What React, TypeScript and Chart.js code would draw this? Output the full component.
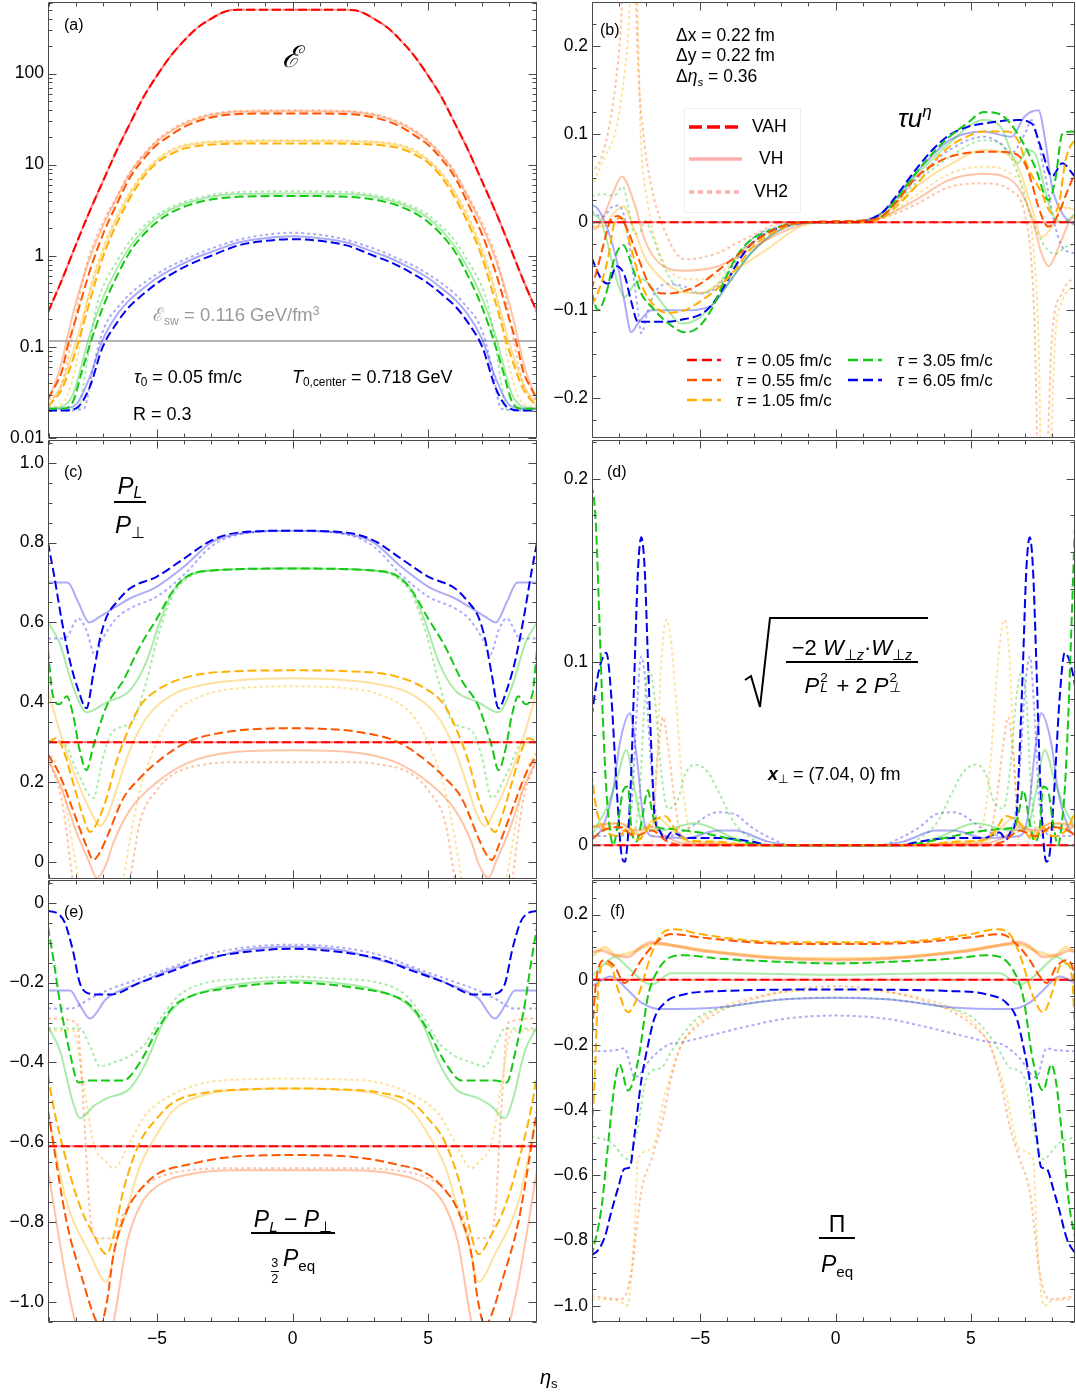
import React, { useEffect, useRef } from "react";
import { Chart, registerables } from "chart.js";

Chart.register(...registerables);

type P = [number, number];

// ---------- shared ----------
const TAUS = ["0.05", "0.55", "1.05", "3.05", "6.05"];
const TAU_COLORS = ["#ff0000", "#ff5500", "#ffb000", "#14c814", "#0000ee"];
const TAU_LIGHT = [
  "rgba(255,0,0,0.32)",
  "rgba(255,85,0,0.35)",
  "rgba(255,176,0,0.38)",
  "rgba(20,200,20,0.36)",
  "rgba(0,0,238,0.33)",
];
const ETA_TICKS = [-5, 0, 5];
const ETA_TICK_LABELS = ["−5", "0", "5"];

// ---------- (a) energy density (left half, mirrored) ----------
const A_TICKS = [0.01, 0.1, 1, 10, 100];
const A_TICK_LABELS = ["0.01", "0.1", "1", "10", "100"];
const E_SW = 0.116;
const A_T005: P[] = [[-9.02,0.24],[-8.5,0.55],[-8,1.3],[-7.5,3],[-7,6.5],[-6.5,14],[-6,28],[-5.5,55],[-5,95],[-4.5,155],[-4,230],[-3.5,320],[-3,400],[-2.6,465],[-2.3,495],[-2,500],[0,500]];
const A_VAH_055: P[] = [[-9.02,0.027],[-8.7,0.04],[-8.5,0.055],[-8.3,0.1],[-8,0.2],[-7.5,0.65],[-7,1.7],[-6.5,3.6],[-6,7.2],[-5.5,11.5],[-5,16.5],[-4.5,21],[-4,26],[-3.5,30],[-3,33],[-2.5,35],[-2,36],[0,36.5]];
const A_VH_055: P[] = [[-9.02,0.026],[-8.7,0.045],[-8.5,0.07],[-8.3,0.13],[-8,0.3],[-7.5,0.9],[-7,2.1],[-6.5,4.2],[-6,8],[-5.5,12.5],[-5,18],[-4.5,23],[-4,28],[-3.5,32],[-3,35],[-2.5,37],[-2,38],[0,38.5]];
const A_VH2_055: P[] = [[-9.02,0.026],[-8.7,0.03],[-8.5,0.04],[-8.2,0.1],[-8,0.22],[-7.7,0.6],[-7.5,1.0],[-7,2.3],[-6.5,4.4],[-6,8.2],[-5.5,13],[-5,18.5],[-4.5,24],[-4,29],[-3.5,33],[-3,36],[-2.5,38],[-2,39],[0,39.5]];
const A_VAH_105: P[] = [[-9.02,0.022],[-8.5,0.035],[-8,0.09],[-7.5,0.3],[-7,0.95],[-6.5,2.2],[-6,4.3],[-5.5,7.3],[-5,10.5],[-4.5,13],[-4,15],[-3.5,16],[-3,16.6],[-2,17],[0,17.1]];
const A_VH_105: P[] = [[-9.02,0.022],[-8.5,0.04],[-8,0.11],[-7.5,0.38],[-7,1.1],[-6.5,2.5],[-6,4.8],[-5.5,7.9],[-5,11.2],[-4.5,14],[-4,16],[-3.5,17],[-3,17.6],[-2,18],[0,18.2]];
const A_VH2_105: P[] = [[-9.02,0.022],[-8.5,0.024],[-8,0.06],[-7.7,0.2],[-7.5,0.4],[-7,1.2],[-6.5,2.7],[-6,5],[-5.5,8.2],[-5,11.5],[-4.5,14.5],[-4,16.5],[-3.5,17.5],[-3,18],[-2,18.4],[0,18.5]];
const A_VAH_305: P[] = [[-9.02,0.021],[-8.5,0.021],[-8.1,0.025],[-7.8,0.05],[-7.5,0.1],[-7,0.27],[-6.5,0.58],[-6,1.1],[-5.5,1.7],[-5,2.35],[-4.5,2.95],[-4,3.45],[-3.5,3.85],[-3,4.15],[-2,4.45],[0,4.53]];
const A_VH_305: P[] = [[-9.02,0.021],[-8.5,0.022],[-8.1,0.03],[-7.8,0.06],[-7.5,0.13],[-7,0.34],[-6.5,0.7],[-6,1.25],[-5.5,1.9],[-5,2.6],[-4.5,3.2],[-4,3.7],[-3.5,4.1],[-3,4.45],[-2,4.75],[0,4.84]];
const A_VH2_305: P[] = [[-9.02,0.021],[-8.5,0.021],[-7.9,0.021],[-7.7,0.04],[-7.5,0.1],[-7.2,0.3],[-7,0.45],[-6.5,0.85],[-6,1.45],[-5.5,2.1],[-5,2.8],[-4.5,3.4],[-4,3.9],[-3.5,4.3],[-3,4.65],[-2,5],[0,5.1]];
const A_VAH_605: P[] = [[-9.02,0.02],[-8.5,0.02],[-8,0.021],[-7.5,0.035],[-7,0.1],[-6.5,0.18],[-6,0.28],[-5.5,0.38],[-5,0.5],[-4.5,0.62],[-4,0.75],[-3.5,0.88],[-3,1.0],[-2.5,1.15],[-2,1.3],[-1,1.46],[0,1.52]];
const A_VH_605: P[] = [[-9.02,0.021],[-8.5,0.021],[-8,0.023],[-7.5,0.045],[-7,0.12],[-6.5,0.22],[-6,0.33],[-5.5,0.44],[-5,0.57],[-4.5,0.7],[-4,0.83],[-3.5,0.97],[-3,1.1],[-2.5,1.25],[-2,1.4],[-1,1.56],[0,1.64]];
const A_VH2_605: P[] = [[-9.02,0.02],[-8.5,0.02],[-7.7,0.021],[-7.4,0.05],[-7.1,0.12],[-6.8,0.2],[-6.5,0.26],[-6,0.38],[-5.5,0.5],[-5,0.63],[-4.5,0.77],[-4,0.9],[-3.5,1.05],[-3,1.2],[-2.5,1.35],[-2,1.5],[-1,1.7],[0,1.79]];

// ---------- (b) tau u^eta (full range) ----------
const B_TICKS = [-0.2, -0.1, 0, 0.1, 0.2];
const B_TICK_LABELS = ["−0.2", "−0.1", "0", "0.1", "0.2"];
const B_T005: P[] = [[-9.02,0],[9.02,0]];
const B_VAH_055: P[] = [[-9.02,-0.077],[-8.78,-0.05],[-8.53,-0.02],[-8.35,0.0],[-8.04,0.007],[-7.67,-0.01],[-7.3,-0.04],[-6.8,-0.075],[-6.3,-0.081],[-5.58,-0.078],[-5,-0.07],[-4.35,-0.055],[-3.73,-0.04],[-3.12,-0.025],[-2.5,-0.012],[-1.89,-0.004],[-1.15,0],[1.0,0.002],[1.69,0.006],[2.3,0.025],[2.95,0.05],[3.6,0.065],[4.2,0.074],[5.0,0.079],[5.86,0.08],[6.5,0.079],[6.99,0.067],[7.25,0.045],[7.5,0.017],[7.87,-0.005],[8.25,0.01],[8.5,0.03],[8.9,0.06]];
const B_VAH_105: P[] = [[-9.02,-0.095],[-8.78,-0.08],[-8.4,-0.04],[-8.16,0.0],[-7.9,0.005],[-7.55,-0.03],[-7.18,-0.07],[-6.7,-0.095],[-6.2,-0.103],[-5.58,-0.1],[-5,-0.09],[-4.35,-0.075],[-3.73,-0.055],[-3.12,-0.03],[-2.5,-0.015],[-1.65,-0.003],[-0.8,0],[0.8,0.0],[1.69,0.004],[2.32,0.02],[2.95,0.04],[3.58,0.067],[4.21,0.086],[4.85,0.097],[5.48,0.103],[6.36,0.103],[6.74,0.093],[7.1,0.063],[7.62,0.033],[8.0,0.01],[8.25,0.02],[8.5,0.07],[8.76,0.09],[8.9,0.092]];
const B_VAH_305: P[] = [[-9.02,-0.079],[-8.78,-0.1],[-8.47,-0.08],[-8.16,-0.04],[-7.85,-0.026],[-7.55,-0.047],[-7.18,-0.081],[-6.8,-0.096],[-6.44,-0.108],[-5.95,-0.12],[-5.58,-0.125],[-5.1,-0.12],[-4.6,-0.1],[-4.1,-0.066],[-3.6,-0.036],[-3.12,-0.02],[-2.4,-0.009],[-1.65,-0.002],[-0.8,0],[0.8,0.001],[1.69,0.006],[2.32,0.029],[2.95,0.055],[3.58,0.078],[4.21,0.097],[4.85,0.112],[5.48,0.125],[6.11,0.122],[6.74,0.1],[7.37,0.063],[7.87,0.025],[8.12,0.048],[8.38,0.1],[8.76,0.103],[8.9,0.1]];
const B_VAH_605: P[] = [[-9.02,-0.04],[-8.65,-0.065],[-8.4,-0.07],[-8.1,-0.05],[-7.8,-0.06],[-7.55,-0.09],[-7.3,-0.113],[-6.8,-0.113],[-6.2,-0.113],[-5.58,-0.11],[-5,-0.105],[-4.6,-0.095],[-4.1,-0.072],[-3.6,-0.045],[-3.12,-0.025],[-2.38,-0.01],[-1.65,-0.003],[-0.8,0],[0.43,0.0],[1.69,0.01],[2.32,0.033],[2.95,0.059],[3.58,0.082],[4.21,0.099],[4.85,0.108],[5.48,0.112],[6.74,0.116],[7.25,0.112],[7.62,0.082],[8.0,0.052],[8.38,0.067],[8.76,0.055],[8.9,0.05]];
const B_VH_055: P[] = [[-9.02,0.0],[-8.9,-0.008],[-8.6,0.005],[-8.2,0.035],[-7.9,0.052],[-7.42,0.02],[-7.05,-0.02],[-6.56,-0.045],[-5.58,-0.055],[-4.35,-0.05],[-3.12,-0.03],[-1.89,-0.01],[-0.8,0],[0.8,0],[1.69,0.005],[2.95,0.025],[4.21,0.048],[5.48,0.055],[6.11,0.053],[6.74,0.04],[7.25,0.006],[7.62,-0.036],[7.87,-0.05],[8.25,-0.028],[8.63,0.0],[8.9,0.01]];
const B_VH_105: P[] = [[-9.02,-0.005],[-8.6,-0.005],[-8.2,0.01],[-7.85,0.018],[-7.42,-0.01],[-7.05,-0.04],[-6.56,-0.06],[-5.58,-0.08],[-5,-0.08],[-3.73,-0.055],[-2.5,-0.03],[-1.3,-0.005],[-0.5,0],[0.5,0],[1.69,0.008],[2.95,0.04],[4.21,0.065],[5.48,0.082],[6.11,0.08],[6.74,0.063],[7.25,0.017],[7.62,-0.017],[8.0,-0.005],[8.38,0.017],[8.9,0.014]];
const B_VH_305: P[] = [[-9.02,0.01],[-8.65,0.0],[-8.3,-0.04],[-8.04,-0.07],[-7.8,-0.085],[-7.42,-0.07],[-7.1,-0.065],[-6.7,-0.08],[-6.2,-0.1],[-5.7,-0.115],[-5.1,-0.11],[-4.6,-0.095],[-3.97,-0.07],[-3.12,-0.035],[-2.14,-0.01],[-1,0],[0.8,0],[1.69,0.01],[2.95,0.052],[4.21,0.09],[5.48,0.116],[6.11,0.108],[6.74,0.067],[7.1,0.082],[7.37,0.078],[7.75,0.036],[8.0,0.01],[8.38,0.0],[8.9,0.01]];
const B_VH_605: P[] = [[-9.02,0.02],[-8.78,0.015],[-8.4,-0.01],[-8.04,-0.05],[-7.8,-0.09],[-7.55,-0.125],[-7.3,-0.115],[-6.8,-0.1],[-6.2,-0.1],[-5.58,-0.1],[-4.6,-0.095],[-3.97,-0.07],[-3.12,-0.035],[-2.14,-0.01],[-1,0],[0.8,0],[1.69,0.01],[2.95,0.055],[4.21,0.093],[5.48,0.103],[6.5,0.097],[6.99,0.12],[7.5,0.127],[7.75,0.093],[8.0,0.04],[8.38,0.01],[8.9,-0.005]];
const B_VH2_055: P[] = [[-9.02,0.055],[-8.6,0.078],[-8.2,0.14],[-7.95,0.215],[-7.8,0.3],[-7.6,0.35],[-7.42,0.3],[-7.3,0.18],[-7.1,0.1],[-6.8,0.04],[-6.44,0.0],[-5.58,-0.042],[-4.35,-0.035],[-3.73,-0.025],[-2.87,-0.012],[-1.89,0],[0,0],[1.69,0.004],[2.95,0.02],[4.21,0.04],[5.48,0.044],[6.48,0.036],[6.99,0.01],[7.25,-0.05],[7.37,-0.13],[7.5,-0.3],[7.75,-0.3],[8.0,-0.13],[8.38,-0.08],[8.9,-0.06]];
const B_VH2_105: P[] = [[-9.02,0.04],[-8.53,0.074],[-8.16,0.1],[-7.92,0.14],[-7.67,0.21],[-7.5,0.3],[-7.36,0.28],[-7.2,0.1],[-6.93,0.02],[-6.56,-0.03],[-5.95,-0.06],[-5.2,-0.065],[-4.35,-0.06],[-3.5,-0.035],[-2.5,-0.012],[-1.5,0],[0,0],[1.69,0.005],[2.95,0.03],[4.21,0.055],[5.48,0.063],[6.48,0.055],[7.1,0.02],[7.37,-0.05],[7.5,-0.13],[7.62,-0.3],[7.87,-0.3],[8.12,-0.13],[8.38,-0.09],[8.9,-0.07]];
const B_VH2_305: P[] = [[-9.02,0.03],[-8.6,0.032],[-8.2,0.03],[-7.85,0.04],[-7.67,0.018],[-7.42,-0.013],[-7.2,-0.01],[-7.05,0.002],[-6.8,-0.013],[-6.44,-0.043],[-6.07,-0.066],[-5.58,-0.077],[-5,-0.081],[-4.35,-0.07],[-3.73,-0.043],[-3.12,-0.02],[-2.38,-0.009],[-1.5,0],[0,0],[1.69,0.008],[2.95,0.044],[4.21,0.074],[5.48,0.093],[6.11,0.089],[6.74,0.055],[7.1,0.017],[7.37,-0.005],[7.75,-0.028],[8.12,-0.036],[8.5,-0.028],[8.9,-0.024]];
const B_VH2_605: P[] = [[-9.02,0.012],[-8.6,0.006],[-8.28,0.017],[-8.04,0.019],[-7.8,0.006],[-7.55,-0.043],[-7.3,-0.1],[-7.18,-0.126],[-6.93,-0.1],[-6.68,-0.08],[-6.2,-0.07],[-5.58,-0.073],[-5,-0.081],[-4.35,-0.073],[-3.73,-0.047],[-3.12,-0.02],[-2.14,-0.005],[-1.2,0],[0,0],[1.69,0.01],[2.95,0.048],[4.21,0.082],[5.48,0.097],[6.11,0.089],[6.48,0.078],[6.99,0.1],[7.25,0.116],[7.5,0.089],[7.75,0.052],[8.12,-0.005],[8.38,-0.028],[8.9,-0.036]];

// ---------- (c) P_L / P_perp (left half, mirrored) ----------
const C_TICKS = [0, 0.2, 0.4, 0.6, 0.8, 1.0];
const C_TICK_LABELS = ["0", "0.2", "0.4", "0.6", "0.8", "1.0"];
const C_T005: P[] = [[-9.02,0.3],[0,0.3]];
const C_VAH_055: P[] = [[-9.02,0.27],[-8.6,0.22],[-8.1,0.13],[-7.6,0.04],[-7.35,0.005],[-7.1,0.025],[-6.86,0.06],[-6.24,0.16],[-5.63,0.21],[-5,0.25],[-3.9,0.3],[-2.5,0.325],[-1,0.334],[0,0.335]];
const C_VH_055: P[] = [[-9.02,0.26],[-8.5,0.18],[-8,0.08],[-7.5,0.0],[-7.23,-0.04],[-6.9,-0.01],[-6.6,0.05],[-6,0.13],[-5,0.2],[-3.8,0.25],[-2.2,0.275],[0,0.28]];
const C_VH2_055: P[] = [[-9.02,0.26],[-8.5,0.15],[-8,-0.1],[-7.5,-0.3],[-7,-0.3],[-6.5,-0.2],[-6.0,-0.045],[-5.63,0.1],[-5,0.18],[-4.4,0.22],[-3.17,0.245],[-2,0.25],[0,0.25]];
const C_VAH_105: P[] = [[-9.02,0.3],[-8.7,0.31],[-8.4,0.27],[-8.1,0.2],[-7.75,0.12],[-7.47,0.075],[-7.2,0.1],[-6.86,0.16],[-6.5,0.25],[-6.24,0.3],[-5.63,0.39],[-5,0.43],[-3.8,0.465],[-2,0.478],[0,0.48]];
const C_VH_105: P[] = [[-9.02,0.43],[-8.6,0.33],[-8.1,0.23],[-7.47,0.13],[-7.1,0.09],[-6.8,0.12],[-6.5,0.18],[-6,0.28],[-5.4,0.36],[-4.4,0.42],[-3.2,0.445],[-2,0.455],[0,0.46]];
const C_VH2_105: P[] = [[-9.02,0.28],[-8.6,0.22],[-8,0.0],[-7.5,-0.2],[-7,-0.25],[-6.5,-0.15],[-6.24,-0.045],[-6,0.055],[-5.63,0.18],[-5,0.3],[-4.4,0.37],[-3.17,0.42],[-2,0.435],[0,0.44]];
const C_VAH_305: P[] = [[-9.02,0.53],[-8.85,0.42],[-8.6,0.395],[-8.33,0.415],[-8.1,0.37],[-7.85,0.28],[-7.6,0.23],[-7.35,0.29],[-6.86,0.39],[-6.24,0.455],[-5.63,0.54],[-5,0.61],[-4.4,0.68],[-3.9,0.715],[-3,0.73],[0,0.735]];
const C_VH_305: P[] = [[-9.02,0.6],[-8.6,0.55],[-8.1,0.44],[-7.6,0.375],[-6.86,0.4],[-6,0.43],[-5.4,0.5],[-4.9,0.6],[-4.4,0.68],[-3.9,0.715],[-3,0.73],[0,0.735]];
const C_VH2_305: P[] = [[-9.02,0.3],[-8.5,0.3],[-7.9,0.22],[-7.35,0.16],[-7.0,0.26],[-6.7,0.32],[-6.2,0.34],[-5.9,0.35],[-5.4,0.45],[-4.9,0.58],[-4.4,0.67],[-3.9,0.71],[-3,0.73],[0,0.735]];
const C_VAH_605: P[] = [[-9.02,0.8],[-8.8,0.72],[-8.5,0.6],[-8.2,0.5],[-7.9,0.43],[-7.6,0.385],[-7.35,0.47],[-7.1,0.56],[-6.85,0.615],[-6.5,0.65],[-6,0.685],[-5,0.715],[-4,0.76],[-3,0.805],[-2,0.825],[0,0.83]];
const C_VH_605: P[] = [[-9.02,0.7],[-8.3,0.7],[-7.9,0.65],[-7.5,0.6],[-7.1,0.615],[-6.5,0.64],[-6,0.66],[-5,0.69],[-4,0.74],[-3,0.8],[-2,0.822],[0,0.83]];
const C_VH2_605: P[] = [[-9.02,0.56],[-8.4,0.56],[-7.9,0.61],[-7.6,0.58],[-7.3,0.52],[-7,0.56],[-6.5,0.61],[-6,0.635],[-5,0.665],[-4,0.72],[-3,0.79],[-2,0.82],[0,0.83]];

// ---------- (d) sqrt(-2 W.W/(PL^2+2PT^2)) (left half, mirrored) ----------
const D_TICKS = [0, 0.1, 0.2];
const D_TICK_LABELS = ["0", "0.1", "0.2"];
const D_T005: P[] = [[-9.02,0],[0,0]];
const D_VAH_055: P[] = [[-9.02,0.003],[-8.6,0.008],[-8,0.01],[-7.4,0.005],[-6.8,0.008],[-6.2,0.002],[-5.5,0],[0,0]];
const D_VAH_105: P[] = [[-9.02,0.04],[-8.84,0.02],[-8.5,0.008],[-8,0.005],[-7.65,0.01],[-7.3,0.003],[-6.8,0.012],[-6.3,0.016],[-5.9,0.008],[-5.5,0.003],[-4.5,0.002],[-3,0],[0,0]];
const D_VAH_305: P[] = [[-9.02,0.197],[-8.9,0.185],[-8.84,0.17],[-8.72,0.12],[-8.6,0.07],[-8.47,0.03],[-8.35,0.01],[-8.22,0.0],[-8.04,0.012],[-7.85,0.03],[-7.67,0.032],[-7.55,0.01],[-7.36,0.002],[-7.18,0.012],[-6.93,0.03],[-6.8,0.02],[-6.62,0.01],[-6.2,0.009],[-5.58,0.008],[-5,0.007],[-4.35,0.005],[-3.73,0.003],[-3.12,0.001],[-2.5,0],[0,0]];
const D_VAH_605: P[] = [[-9.02,0.07],[-8.75,0.095],[-8.47,0.105],[-8.28,0.08],[-8.16,0.05],[-8.04,0.02],[-7.92,-0.004],[-7.79,-0.009],[-7.67,0.005],[-7.55,0.04],[-7.42,0.1],[-7.3,0.15],[-7.18,0.168],[-7.05,0.15],[-6.93,0.1],[-6.8,0.05],[-6.68,0.015],[-6.5,0.008],[-6.3,0.003],[-6.07,0.007],[-5.5,0.004],[-4.35,0.004],[-3.1,0.002],[-2.4,0],[0,0]];
const D_VH_055: P[] = [[-9.02,0.01],[-8,0.012],[-7.4,0.008],[-6.8,0.01],[-6.2,0.004],[-5.5,0.001],[0,0]];
const D_VH_105: P[] = [[-9.02,0.01],[-8.5,0.012],[-7.9,0.012],[-7.3,0.006],[-6.6,0.015],[-6,0.008],[-5.5,0.002],[0,0]];
const D_VH_305: P[] = [[-9.02,0.005],[-8.84,0.01],[-8.47,0.02],[-8.1,0.035],[-7.73,0.052],[-7.42,0.03],[-7.1,0.01],[-6.5,0.008],[-5.2,0.012],[-3.73,0.004],[-2.5,0],[0,0]];
const D_VH_605: P[] = [[-9.02,0.003],[-8.6,0.01],[-8.22,0.03],[-7.98,0.055],[-7.6,0.072],[-7.36,0.05],[-7.1,0.015],[-6.8,0.005],[-5.5,0.004],[-4.35,0.008],[-3.73,0.008],[-2.5,0.002],[-1.5,0],[0,0]];
const D_VH2_055: P[] = [[-9.02,0.01],[-7.5,0.008],[-6.8,0.01],[-6.56,0.05],[-6.38,0.07],[-6.2,0.055],[-5.95,0.025],[-5.7,0.005],[-5,0.001],[0,0]];
const D_VH2_105: P[] = [[-9.02,0.01],[-7.5,0.01],[-7.0,0.0],[-6.8,0.0],[-6.62,0.04],[-6.44,0.1],[-6.25,0.123],[-6.07,0.11],[-5.9,0.08],[-5.7,0.04],[-5.5,0.015],[-5.2,0.003],[-4.5,0.001],[0,0]];
const D_VH2_305: P[] = [[-9.02,0.005],[-8,0.01],[-7.5,0.005],[-7.23,0.03],[-7.05,0.08],[-6.87,0.095],[-6.68,0.08],[-6.44,0.04],[-6.2,0.02],[-5.82,0.025],[-5.58,0.038],[-5.2,0.044],[-4.72,0.04],[-4.35,0.03],[-3.73,0.012],[-3.12,0.004],[-2.5,0],[0,0]];
const D_VH2_605: P[] = [[-9.02,0.005],[-8,0.005],[-7.55,0.02],[-7.36,0.07],[-7.18,0.103],[-7.0,0.085],[-6.8,0.04],[-6.56,0.01],[-6.2,0.005],[-5.58,0.008],[-4.35,0.018],[-3.73,0.017],[-3.12,0.01],[-2.4,0.004],[-1.65,0],[0,0]];

// ---------- (e) (PL-PT)/(3/2 Peq) (left half, mirrored) ----------
const E_TICKS = [-1.0, -0.8, -0.6, -0.4, -0.2, 0];
const E_TICK_LABELS = ["−1.0", "−0.8", "−0.6", "−0.4", "−0.2", "0"];
const E_T005: P[] = [[-9.02,-0.61],[0,-0.61]];
const E_VAH_055: P[] = [[-9.02,-0.52],[-8.33,-0.8],[-7.72,-0.95],[-7.35,-1.03],[-7.1,-1.06],[-6.85,-1.0],[-6.6,-0.88],[-6.1,-0.77],[-5.63,-0.72],[-5,-0.68],[-3.8,-0.655],[-2,-0.635],[0,-0.632]];
const E_VH_055: P[] = [[-9.02,-0.67],[-8.33,-0.95],[-7.9,-1.08],[-7.2,-1.2],[-6.6,-1.05],[-6.1,-0.85],[-5.63,-0.76],[-5,-0.71],[-3.8,-0.68],[-2,-0.67],[0,-0.67]];
const E_VH2_055: P[] = [[-9.02,-0.29],[-7.96,-0.3],[-7.72,-0.5],[-7.47,-0.78],[-7.23,-0.84],[-6.6,-0.84],[-6.24,-0.78],[-5.63,-0.72],[-5,-0.69],[-3.8,-0.67],[-2,-0.665],[0,-0.665]];
const E_VAH_105: P[] = [[-9.02,-0.43],[-8.85,-0.5],[-8.33,-0.65],[-7.84,-0.76],[-7.35,-0.83],[-6.86,-0.88],[-6.55,-0.82],[-6.24,-0.72],[-5.63,-0.6],[-5,-0.54],[-4.4,-0.5],[-3.17,-0.475],[-1.5,-0.467],[0,-0.465]];
const E_VH_105: P[] = [[-9.02,-0.53],[-8.33,-0.75],[-7.47,-0.88],[-6.86,-0.95],[-6.5,-0.85],[-6.24,-0.8],[-5.63,-0.66],[-5,-0.58],[-4.4,-0.52],[-3.17,-0.48],[-1.5,-0.467],[0,-0.465]];
const E_VH2_105: P[] = [[-9.02,-0.32],[-8.1,-0.32],[-7.72,-0.45],[-7.35,-0.6],[-6.86,-0.65],[-6.6,-0.665],[-6,-0.6],[-5.4,-0.53],[-4.4,-0.48],[-3.17,-0.45],[-1.5,-0.442],[0,-0.44]];
const E_VAH_305: P[] = [[-9.02,-0.06],[-8.8,-0.15],[-8.58,-0.25],[-8.2,-0.38],[-7.9,-0.45],[-7.47,-0.445],[-6.24,-0.445],[-5.63,-0.4],[-5,-0.32],[-4.4,-0.26],[-3.8,-0.235],[-2.5,-0.215],[0,-0.2]];
const E_VH_305: P[] = [[-9.02,-0.31],[-8.58,-0.37],[-8.1,-0.5],[-7.84,-0.54],[-7.35,-0.51],[-6.86,-0.49],[-6,-0.465],[-5.4,-0.4],[-4.77,-0.3],[-4.15,-0.25],[-3.17,-0.22],[-1.5,-0.2],[0,-0.195]];
const E_VH2_305: P[] = [[-9.02,-0.315],[-7.84,-0.315],[-7.47,-0.36],[-7.1,-0.41],[-6.6,-0.4],[-5.9,-0.38],[-5.4,-0.35],[-4.77,-0.28],[-4.15,-0.23],[-3.17,-0.2],[-1.5,-0.19],[0,-0.185]];
const E_VAH_605: P[] = [[-9.02,-0.02],[-8.6,-0.03],[-8.4,-0.05],[-8.1,-0.12],[-7.85,-0.2],[-7.6,-0.225],[-7.1,-0.23],[-6.7,-0.23],[-5.63,-0.2],[-4.4,-0.17],[-3.17,-0.14],[-1.94,-0.125],[0,-0.115]];
const E_VH_605: P[] = [[-9.02,-0.22],[-8.2,-0.22],[-7.9,-0.25],[-7.47,-0.29],[-6.86,-0.24],[-5.63,-0.2],[-4.4,-0.165],[-3,-0.14],[-1.94,-0.12],[0,-0.11]];
const E_VH2_605: P[] = [[-9.02,-0.265],[-8.2,-0.265],[-7.47,-0.24],[-6.86,-0.22],[-5.63,-0.19],[-4.4,-0.16],[-3.17,-0.13],[-1.5,-0.11],[0,-0.105]];

// ---------- (f) Pi / Peq (left half, mirrored) ----------
const F_TICKS = [-1.0, -0.8, -0.6, -0.4, -0.2, 0, 0.2];
const F_TICK_LABELS = ["−1.0", "−0.8", "−0.6", "−0.4", "−0.2", "0", "0.2"];
const F_T005: P[] = [[-9.02,0],[0,0]];
const F_VAH_055: P[] = [[-9.02,-0.2],[-8.9,-0.05],[-8.78,0.03],[-8.53,0.06],[-8.16,0.04],[-7.8,-0.01],[-7.55,0.01],[-7.18,0.06],[-6.8,0.1],[-6.3,0.135],[-6.07,0.14],[-5,0.13],[-3.1,0.115],[-1.5,0.11],[0,0.11]];
const F_VH_055: P[] = [[-9.02,0.085],[-8.65,0.09],[-8.2,0.075],[-7.67,0.07],[-7.2,0.1],[-6.8,0.115],[-6,0.105],[-5,0.09],[-4,0.08],[-2.5,0.068],[0,0.06]];
const F_VH2_055: P[] = [[-9.02,-0.97],[-7.9,-0.98],[-7.55,-0.9],[-7.18,-0.65],[-6.8,-0.55],[-6.44,-0.45],[-6.07,-0.3],[-5.7,-0.2],[-5.2,-0.15],[-4.35,-0.1],[-3.1,-0.06],[-1.5,-0.03],[0,-0.02]];
const F_VAH_105: P[] = [[-9.02,-0.5],[-8.9,-0.3],[-8.75,0.0],[-8.53,0.05],[-8.28,0.04],[-8.04,-0.03],[-7.67,-0.1],[-7.3,-0.05],[-6.8,0.08],[-6.44,0.14],[-5.95,0.155],[-5,0.14],[-3.1,0.12],[-1.5,0.115],[0,0.115]];
const F_VH_105: P[] = [[-9.02,0.07],[-8.53,0.1],[-8.1,0.075],[-7.5,0.085],[-6.7,0.11],[-6,0.105],[-5,0.092],[-4,0.082],[-2.5,0.07],[0,0.065]];
const F_VH2_105: P[] = [[-9.02,-0.98],[-8,-0.985],[-7.7,-1.0],[-7.45,-0.8],[-7.3,-0.55],[-6.8,-0.52],[-6.3,-0.35],[-5.8,-0.22],[-5.3,-0.15],[-4.35,-0.09],[-3.1,-0.055],[-1.5,-0.035],[0,-0.03]];
const F_VAH_305: P[] = [[-9.02,-0.85],[-8.65,-0.7],[-8.4,-0.5],[-8.16,-0.32],[-7.98,-0.26],[-7.67,-0.34],[-7.3,-0.25],[-6.93,-0.05],[-6.56,0.03],[-6.07,0.07],[-5.58,0.075],[-4.35,0.065],[-2,0.055],[0,0.05]];
const F_VH_305: P[] = [[-9.02,0.01],[-8.53,0.05],[-8.16,0.07],[-7.7,0.04],[-7.18,0.0],[-6.8,-0.015],[-6.07,0.02],[-4,0.02],[0,0.015]];
const F_VH2_305: P[] = [[-9.02,-0.48],[-8.28,-0.5],[-7.67,-0.55],[-7.3,-0.45],[-7.05,-0.32],[-6.8,-0.28],[-6.44,-0.27],[-6.07,-0.22],[-5.58,-0.16],[-4.96,-0.11],[-3.73,-0.08],[-1.9,-0.06],[0,-0.055]];
const F_VAH_605: P[] = [[-9.02,-0.845],[-8.78,-0.83],[-8.53,-0.79],[-8.28,-0.71],[-8.04,-0.64],[-7.8,-0.58],[-7.6,-0.575],[-7.42,-0.47],[-7.18,-0.31],[-6.93,-0.2],[-6.7,-0.12],[-6.3,-0.07],[-5.6,-0.045],[-4.35,-0.035],[0,-0.03]];
const F_VH_605: P[] = [[-9.02,-0.02],[-8.28,0.01],[-7.7,-0.03],[-7.18,-0.07],[-6.44,-0.09],[-4.35,-0.085],[-1.9,-0.06],[0,-0.055]];
const F_VH2_605: P[] = [[-9.02,-0.22],[-8.04,-0.215],[-7.8,-0.21],[-7.42,-0.3],[-6.8,-0.24],[-6.2,-0.2],[-5.58,-0.19],[-4.35,-0.165],[-3.1,-0.14],[-1.9,-0.12],[0,-0.11]];

// ---------- helpers ----------
const sym = (half: P[]): P[] => [
  ...half,
  ...half.slice(0, -1).reverse().map(([x, y]) => [-x, y] as P),
];
const range = (a: number, b: number, s: number) => {
  const o: number[] = [];
  for (let v = a; v <= b + 1e-9; v += s) o.push(+v.toFixed(6));
  return o;
};
const LOG_MINOR = (() => {
  const o: number[] = [];
  for (let d = -2; d <= 2; d++) for (let m = 2; m <= 9; m++) o.push(m * Math.pow(10, d));
  return o;
})();

type Kind = "vah" | "vh" | "vh2";
type PanelCfg = {
  left: number; top: number; width: number; height: number;
  padTop: number; padBottom: number; padRight: number;
  xMin: number; xMax: number; showX: boolean;
  yType: "linear" | "logarithmic"; yMin: number; yMax: number;
  yTicks: number[]; yLabels: string[]; yMinor: number[];
  mirror: boolean;
  vah: P[][]; vh: P[][]; vh2: P[][];
  vhWidth?: number[];
  extra?: any[];
};

const FONT = { family: '"Liberation Sans", Arial, sans-serif', size: 17.5 };
const FRAME = "#4a4a4a";

function framePlugin(p: PanelCfg) {
  return {
    id: "frameTicks",
    afterDatasetsDraw(chart: any) {
      const { ctx, chartArea: a } = chart;
      const xs = chart.scales.x, ys = chart.scales.y;
      ctx.save();
      ctx.strokeStyle = FRAME;
      ctx.lineWidth = 1;
      const L = Math.round(a.left) + 0.5, R = Math.round(a.right) - 0.5;
      const T = Math.round(a.top) + 0.5, B = Math.round(a.bottom) - 0.5;
      ctx.beginPath();
      ctx.rect(L, T, R - L, B - T);
      const xt = (v: number, len: number) => {
        if (v < p.xMin || v > p.xMax) return;
        const px = Math.round(xs.getPixelForValue(v)) + 0.5;
        ctx.moveTo(px, B); ctx.lineTo(px, B - len);
        ctx.moveTo(px, T); ctx.lineTo(px, T + len);
      };
      const yt = (v: number, len: number) => {
        if (v < p.yMin || v > p.yMax) return;
        const py = Math.round(ys.getPixelForValue(v)) + 0.5;
        ctx.moveTo(L, py); ctx.lineTo(L + len, py);
        ctx.moveTo(R, py); ctx.lineTo(R - len, py);
      };
      range(-9, 9, 1).forEach((v) => xt(v, ETA_TICKS.includes(v) ? 8 : 4));
      p.yMinor.forEach((v) => yt(v, 4));
      p.yTicks.forEach((v) => yt(v, 8));
      ctx.stroke();
      ctx.restore();
    },
  };
}

function buildConfig(p: PanelCfg): any {
  const datasets: any[] = [];
  const groups: [Kind, P[][]][] = [["vah", p.vah], ["vh", p.vh], ["vh2", p.vh2]];
  for (const [kind, arrs] of groups) {
    arrs.forEach((arr, i) => {
      datasets.push({
        data: (p.mirror ? sym(arr) : arr).map(([x, y]) => ({ x, y })),
        borderColor: kind === "vah" ? TAU_COLORS[i] : TAU_LIGHT[i],
        borderWidth: kind === "vh" && p.vhWidth ? p.vhWidth[i] : 2,
        borderDash: kind === "vah" ? [9, 4] : kind === "vh2" ? [3, 3] : [],
        pointRadius: 0,
        fill: false,
        cubicInterpolationMode: "monotone",
        capBezierPoints: false,
        clip: 0,
      });
    });
  }
  if (p.extra) datasets.push(...p.extra);
  const lbl = (ticks: number[], labels: string[]) => (v: any) => {
    const n = Number(v);
    const i = ticks.findIndex((t) => Math.abs(t - n) <= 1e-6 * Math.max(1, Math.abs(t)));
    return i >= 0 ? labels[i] : "";
  };
  return {
    type: "line",
    data: { datasets },
    plugins: [framePlugin(p)],
    options: {
      animation: false,
      responsive: false,
      maintainAspectRatio: false,
      devicePixelRatio: 1,
      events: [],
      layout: { padding: { top: p.padTop, bottom: p.padBottom, right: p.padRight, left: 0 } },
      plugins: { legend: { display: false }, tooltip: { enabled: false } },
      scales: {
        x: {
          type: "linear",
          min: p.xMin,
          max: p.xMax,
          display: p.showX,
          grid: { display: false, drawTicks: false },
          border: { display: false },
          ticks: { font: FONT, color: "#000", padding: 7, maxRotation: 0, autoSkip: false, callback: lbl(ETA_TICKS, ETA_TICK_LABELS) },
          afterBuildTicks: (s: any) => { s.ticks = ETA_TICKS.map((v) => ({ value: v })); },
          afterFit: (s: any) => { s.height = p.showX ? 71 : 0; s.paddingLeft = 0; s.paddingRight = 0; },
        },
        y: {
          type: p.yType,
          min: p.yMin,
          max: p.yMax,
          grid: { display: false, drawTicks: false },
          border: { display: false },
          ticks: { font: FONT, color: "#000", padding: 4, autoSkip: false, callback: lbl(p.yTicks, p.yLabels) },
          afterBuildTicks: (s: any) => { s.ticks = p.yTicks.map((v) => ({ value: v })); },
          afterFit: (s: any) => { s.width = 48; s.paddingTop = 0; s.paddingBottom = 0; },
        },
      },
    },
  };
}

function Panel({ cfg }: { cfg: PanelCfg }) {
  const ref = useRef<HTMLCanvasElement>(null);
  useEffect(() => {
    const chart = new Chart(ref.current as HTMLCanvasElement, buildConfig(cfg));
    return () => chart.destroy();
  }, [cfg]);
  return (
    <canvas
      ref={ref}
      width={cfg.width}
      height={cfg.height}
      style={{ position: "absolute", left: cfg.left, top: cfg.top, width: cfg.width, height: cfg.height }}
    />
  );
}

const LEFT = { left: 0, width: 540, padRight: 3, xMin: -9.02, xMax: 9.02 };
const RIGHT = { left: 544, width: 532, padRight: 1, xMin: -9.0, xMax: 8.85 };

const PANELS: PanelCfg[] = [
  {
    ...LEFT, top: 0, height: 452, padTop: 2, padBottom: 14, showX: false,
    yType: "logarithmic", yMin: 0.01, yMax: 610, yTicks: A_TICKS, yLabels: A_TICK_LABELS, yMinor: LOG_MINOR,
    mirror: true,
    vah: [A_T005, A_VAH_055, A_VAH_105, A_VAH_305, A_VAH_605],
    vh: [A_T005, A_VH_055, A_VH_105, A_VH_305, A_VH_605],
    vh2: [A_T005, A_VH2_055, A_VH2_105, A_VH2_305, A_VH2_605],
    extra: [{
      data: [{ x: -9.02, y: E_SW }, { x: 9.02, y: E_SW }],
      borderColor: "#9a9a9a", borderWidth: 1.5, pointRadius: 0, fill: false, clip: 0,
    }],
  },
  {
    ...RIGHT, top: 0, height: 452, padTop: 2, padBottom: 14, showX: false,
    yType: "linear", yMin: -0.245, yMax: 0.25, yTicks: B_TICKS, yLabels: B_TICK_LABELS, yMinor: range(-0.25, 0.25, 0.025),
    mirror: false,
    vah: [B_T005, B_VAH_055, B_VAH_105, B_VAH_305, B_VAH_605],
    vh: [B_T005, B_VH_055, B_VH_105, B_VH_305, B_VH_605],
    vh2: [B_T005, B_VH2_055, B_VH2_105, B_VH2_305, B_VH2_605],
  },
  {
    ...LEFT, top: 440, height: 452, padTop: 0, padBottom: 13, showX: false,
    yType: "linear", yMin: -0.0426, yMax: 1.057, yTicks: C_TICKS, yLabels: C_TICK_LABELS, yMinor: range(0, 1.05, 0.05),
    mirror: true,
    vah: [C_T005, C_VAH_055, C_VAH_105, C_VAH_305, C_VAH_605],
    vh: [C_T005, C_VH_055, C_VH_105, C_VH_305, C_VH_605],
    vh2: [C_T005, C_VH2_055, C_VH2_105, C_VH2_305, C_VH2_605],
  },
  {
    ...RIGHT, top: 440, height: 452, padTop: 0, padBottom: 13, showX: false,
    yType: "linear", yMin: -0.0184, yMax: 0.2211, yTicks: D_TICKS, yLabels: D_TICK_LABELS, yMinor: range(0, 0.22, 0.02),
    mirror: true,
    vah: [D_T005, D_VAH_055, D_VAH_105, D_VAH_305, D_VAH_605],
    vh: [D_T005, D_VH_055, D_VH_105, D_VH_305, D_VH_605],
    vh2: [D_T005, D_VH2_055, D_VH2_105, D_VH2_305, D_VH2_605],
  },
  {
    ...LEFT, top: 880, height: 513, padTop: 0, padBottom: 0, showX: true,
    yType: "linear", yMin: -1.05, yMax: 0.057, yTicks: E_TICKS, yLabels: E_TICK_LABELS, yMinor: range(-1.05, 0.05, 0.05),
    mirror: true,
    vah: [E_T005, E_VAH_055, E_VAH_105, E_VAH_305, E_VAH_605],
    vh: [E_T005, E_VH_055, E_VH_105, E_VH_305, E_VH_605],
    vh2: [E_T005, E_VH2_055, E_VH2_105, E_VH2_305, E_VH2_605],
  },
  {
    ...RIGHT, top: 880, height: 513, padTop: 0, padBottom: 0, showX: true,
    yType: "linear", yMin: -1.05, yMax: 0.306, yTicks: F_TICKS, yLabels: F_TICK_LABELS, yMinor: range(-1.05, 0.3, 0.05),
    mirror: true,
    vah: [F_T005, F_VAH_055, F_VAH_105, F_VAH_305, F_VAH_605],
    vh: [F_T005, F_VH_055, F_VH_105, F_VH_305, F_VH_605],
    vh2: [F_T005, F_VH2_055, F_VH2_105, F_VH2_305, F_VH2_605],
    vhWidth: [2, 3, 3, 2, 2],
  },
];

// ---------- text overlay ----------
const Txt = ({ x, b, s = 17, children, style }: any) => (
  <div style={{ position: "absolute", left: x, top: b - 0.85 * s, fontSize: s, lineHeight: 1, whiteSpace: "nowrap", ...style }}>
    {children}
  </div>
);
const Sub = ({ children, style }: any) => (
  <span style={{ fontSize: "0.66em", position: "relative", top: "0.3em", ...style }}>{children}</span>
);
const Sup = ({ children, style }: any) => (
  <span style={{ fontSize: "0.66em", position: "relative", top: "-0.55em", ...style }}>{children}</span>
);
const SubSup = ({ sub, sup }: any) => (
  <span style={{ position: "relative", display: "inline-block", width: "0.5em", height: "1em" }}>
    <span style={{ position: "absolute", left: 1, top: "0.0em", fontSize: "0.62em", lineHeight: 1 }}>{sup}</span>
    <span style={{ position: "absolute", left: 1, top: "0.72em", fontSize: "0.62em", lineHeight: 1, fontStyle: "italic" }}>{sub}</span>
  </span>
);
const Frac = ({ cx, y, w, s, num, den, numB, denT }: any) => (
  <>
    <div style={{ position: "absolute", left: cx - w / 2, top: y - 1, width: w, height: 2, background: "#000" }} />
    <div style={{ position: "absolute", left: cx - 150, width: 300, textAlign: "center", top: y - numB - 0.85 * s, fontSize: s, lineHeight: 1, whiteSpace: "nowrap" }}>{num}</div>
    <div style={{ position: "absolute", left: cx - 150, width: 300, textAlign: "center", top: y + denT - 0.13 * s, fontSize: s, lineHeight: 1, whiteSpace: "nowrap" }}>{den}</div>
  </>
);

export default function App() {
  useEffect(() => {
    document.body.style.margin = "0";
  }, []);
  const legendRows = TAUS.map((t, i) => ({
    t, i, col: i < 3 ? 0 : 1, row: i < 3 ? i : i - 3,
  }));
  return (
    <div
      style={{
        position: "absolute", left: 0, top: 0, width: 1076, height: 1393, overflow: "hidden",
        background: "#fff", fontFamily: '"Liberation Sans", Arial, sans-serif', color: "#000",
      }}
    >
      {PANELS.map((p, i) => <Panel key={i} cfg={p} />)}

      <svg width={1076} height={1393} style={{ position: "absolute", left: 0, top: 0, pointerEvents: "none" }}>
        <rect x={684.5} y={108.5} width={116} height={104} fill="none" stroke="#efefef" />
        <line x1={689} x2={742} y1={127} y2={127} stroke={TAU_COLORS[0]} strokeWidth={3.5} strokeDasharray="13 5" />
        <line x1={689} x2={742} y1={159} y2={159} stroke={TAU_LIGHT[0]} strokeWidth={3.5} />
        <line x1={689} x2={742} y1={192} y2={192} stroke={TAU_LIGHT[0]} strokeWidth={3.5} strokeDasharray="5 4" />
        {legendRows.map((r) => (
          <line key={r.t} x1={r.col ? 848 : 687} x2={r.col ? 882 : 721} y1={360 + 20 * r.row} y2={360 + 20 * r.row}
            stroke={TAU_COLORS[r.i]} strokeWidth={2.5} strokeDasharray="10 5" />
        ))}
        <path d="M745 680 L751 676 L760 707 L770 618 L928 618" stroke="#000" strokeWidth={2} fill="none" />
      </svg>

      {/* (a) */}
      <Txt x={64} b={31} s={16}>(a)</Txt>
      <Txt x={282} b={67} s={30} style={{ fontStyle: "italic" }}>ℰ</Txt>
      <Txt x={153} b={322} s={18.5} style={{ color: "#999" }}>ℰ<Sub>sw</Sub> = 0.116 GeV/fm<Sup>3</Sup></Txt>
      <Txt x={134} b={383} s={18}><i>τ</i><Sub>0</Sub> = 0.05 fm/c</Txt>
      <Txt x={292} b={383} s={18}><i>T</i><Sub>0,center</Sub> = 0.718 GeV</Txt>
      <Txt x={133} b={420} s={18}>R = 0.3</Txt>

      {/* (b) */}
      <Txt x={600} b={36} s={16}>(b)</Txt>
      <Txt x={676} b={42} s={17.5}>Δx = 0.22 fm</Txt>
      <Txt x={676} b={62} s={17.5}>Δy = 0.22 fm</Txt>
      <Txt x={676} b={83} s={17.5}>Δ<i>η</i><Sub><i>s</i></Sub> = 0.36</Txt>
      <Txt x={752} b={133} s={17.5}>VAH</Txt>
      <Txt x={759} b={165} s={17.5}>VH</Txt>
      <Txt x={754} b={198} s={17.5}>VH2</Txt>
      <Txt x={898} b={127} s={26}><i>τu</i><Sup><i>η</i></Sup></Txt>
      {legendRows.map((r) => (
        <Txt key={r.t} x={r.col ? 897 : 736} b={366 + 20 * r.row} s={17}><i>τ</i> = {r.t} fm/c</Txt>
      ))}

      {/* (c) */}
      <Txt x={64} b={478} s={16}>(c)</Txt>
      <Frac cx={130} y={502} w={32} s={24} numB={8}
        num={<span><i>P</i><Sub><i>L</i></Sub></span>}
        den={<span><i>P</i><Sub>⊥</Sub></span>} denT={14} />

      {/* (d) */}
      <Txt x={607} b={478} s={16}>(d)</Txt>
      <Frac cx={852} y={662} w={132} s={22} numB={6} denT={12}
        num={<span>−2 <i>W</i><Sub>⊥<i>z</i></Sub>·<i>W</i><Sub>⊥<i>z</i></Sub></span>}
        den={<span><i>P</i><SubSup sub="L" sup="2" /> + 2 <i>P</i><SubSup sub="⊥" sup="2" /></span>} />
      <Txt x={768} b={780} s={18}><b><i>x</i></b><Sub>⊥</Sub> = (7.04, 0) fm</Txt>

      {/* (e) */}
      <Txt x={64} b={918} s={16}>(e)</Txt>
      <Frac cx={293} y={1233} w={84} s={23} numB={5} denT={17}
        num={<span><i>P</i><Sub><i>L</i></Sub> − <i>P</i><Sub>⊥</Sub></span>}
        den={<span>
          <span style={{ display: "inline-flex", flexDirection: "column", alignItems: "center", fontSize: "0.55em", lineHeight: 1, verticalAlign: "-0.1em", marginRight: 4 }}>
            <span>3</span><span style={{ width: 8, height: 1, background: "#000", margin: "1px 0" }} /><span>2</span>
          </span>
          <i>P</i><Sub>eq</Sub>
        </span>} />

      {/* (f) */}
      <Txt x={610} b={917} s={16}>(f)</Txt>
      <Frac cx={837} y={1238} w={36} s={23} numB={5} denT={18}
        num={<span>Π</span>}
        den={<span><i>P</i><Sub>eq</Sub></span>} />

      {/* axis label */}
      <Txt x={540} b={1384} s={20}><i>η</i><Sub>s</Sub></Txt>
    </div>
  );
}
